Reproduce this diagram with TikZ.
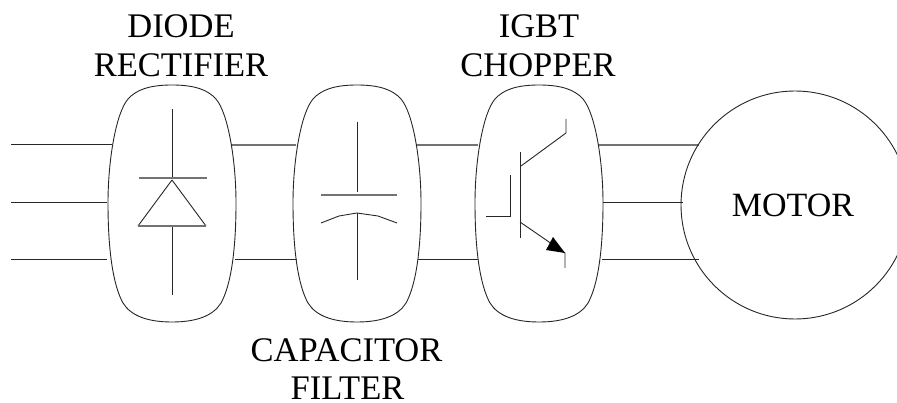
\documentclass[tikz,border=0pt]{standalone}
\usepackage{fontspec}
\setmainfont{Liberation Serif}
\tikzset{
  ln/.style={line width=0.9pt,draw=black!85},
  glow/.style={line width=1.3pt,draw=black!55},
  lbl/.style={font=\fontsize{34.5}{38}\selectfont,align=center,inner sep=0pt,text=black},
  blob/.style={line width=0.9pt,draw=black!85},
  blobshape/.pic={
    \draw[blob] (0,85) .. controls (23,85) and (36,90) .. (44,99)
      .. controls (56,113) and (64,160) .. (64,203)
      .. controls (64,250) and (59,285) .. (49,303)
      .. controls (41,316) and (24,322) .. (0,322)
      .. controls (-24,322) and (-41,316) .. (-49,303)
      .. controls (-59,285) and (-64,250) .. (-64,203)
      .. controls (-64,160) and (-56,113) .. (-44,99)
      .. controls (-36,90) and (-23,85) .. (0,85) -- cycle;
  },
}
\begin{document}
\begin{tikzpicture}[x=1pt,y=-1pt]
\useasboundingbox (0,0) rectangle (897,403);
% rails
\draw[ln] (11,144)--(112,144);
\draw[ln] (11,202)--(107,202);
\draw[ln] (11,259)--(107,259);
\draw[glow] (231,145)--(296,145);
\draw[ln] (235,259)--(297,259);
\draw[glow] (416,145)--(478,145);
\draw[ln] (418,259)--(478,259);
\draw[glow] (598,145)--(699,145);
\draw[ln] (603,202)--(683,202);
\draw[ln] (602,259)--(699,259);
% blobs
\pic at (172,0) {blobshape};
\pic at (357,0) {blobshape};
\pic at (539,0) {blobshape};
% motor
\begin{scope}
\clip (0,0) rectangle (897,403);
\node[circle,draw=black!85,line width=0.9pt,minimum size=228pt,inner sep=0pt] (motor) at (795,205) {};
\end{scope}
\node[lbl,font=\fontsize{34}{38}\selectfont] at (793,205) {MOTOR};
% diode
\draw[ln] (172,109)--(172,178);
\draw[glow] (139,178)--(207,178);
\draw[ln] (172,180)--(138,226);
\draw[ln] (172,180)--(206,226);
\draw[glow] (138,226)--(206,226);
\draw[ln] (172,227)--(172,295);
% capacitor
\draw[ln] (357,122)--(357,192);
\draw[glow] (321,195)--(397,195);
\draw[ln] (321,223)--(339,216)--(357,213)--(378,216)--(397,223);
\draw[ln] (357,213)--(357,280);
% igbt
\draw[ln] (566,119)--(566,133)--(521,166);
\draw[ln] (520,152)--(520,238);
\draw[ln] (510,175)--(510,216)--(486,216);
\draw[ln] (520,222)--(565,253)--(565,268);
\fill[black] (565,253)--(546,250)--(553,237)--cycle;
% labels
\node[lbl] at (181,26) {DIODE};
\node[lbl] at (181,65) {RECTIFIER};
\node[lbl] at (346.5,350) {CAPACITOR};
\node[lbl] at (347.5,388) {FILTER};
\node[lbl] at (539,26) {IGBT};
\node[lbl] at (538,65) {CHOPPER};
\end{tikzpicture}
\end{document}
